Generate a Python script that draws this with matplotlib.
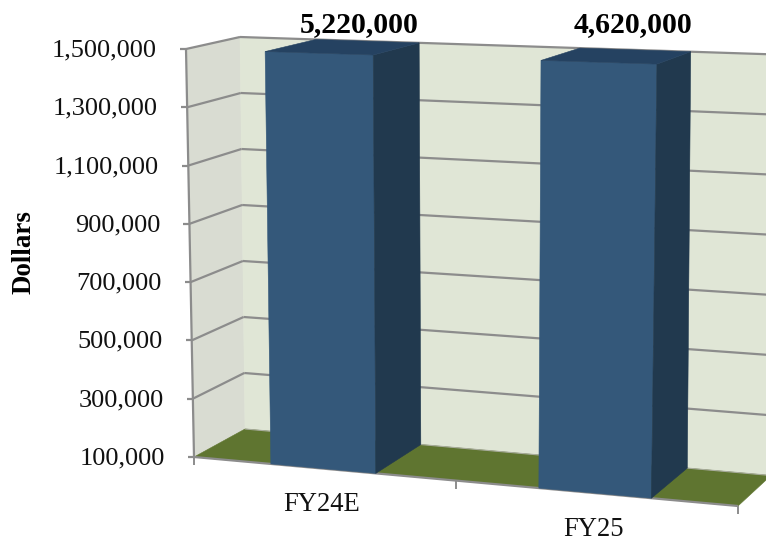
import matplotlib
matplotlib.use('Agg')
import matplotlib.pyplot as plt
from matplotlib.patches import Polygon

categories = ['FY24E', 'FY25']
values = [5220000, 4620000]
value_labels = ['5,220,000', '4,620,000']
y_ticks = [100000, 300000, 500000, 700000, 900000, 1100000, 1300000, 1500000]
y_min = 100000
y_max = 1500000

plt.rcParams['font.family'] = ['Liberation Serif', 'DejaVu Serif']

# corners of the 3d box as seen on the page, in pixels (u, depth, z)
FRONT_BOTTOM_L = (194, 457)
FRONT_BOTTOM_R = (738, 506)
FRONT_TOP_L = (186, 49)
FRONT_TOP_R = (746, 67)
BACK_BOTTOM_L = (245, 429)
BACK_BOTTOM_R = (771, 475.5)
BACK_TOP_L = (240, 37)
BACK_TOP_R = (776, 54.5)


def mix(a, b, t):
    return (a[0] + (b[0] - a[0]) * t, a[1] + (b[1] - a[1]) * t)


def warp(u):
    # slight perspective along the category axis
    return u / (1 + 0.0725 * (1 - u))


def project(u, d, z):
    u = warp(u)
    fb = mix(FRONT_BOTTOM_L, FRONT_BOTTOM_R, u)
    ft = mix(FRONT_TOP_L, FRONT_TOP_R, u)
    bb = mix(BACK_BOTTOM_L, BACK_BOTTOM_R, u)
    bt = mix(BACK_TOP_L, BACK_TOP_R, u)
    return mix(mix(fb, ft, z), mix(bb, bt, z), d)


def scale(v):
    return (min(v, y_max) - y_min) / (y_max - y_min)


fig = plt.figure(figsize=(7.66, 5.39), dpi=100)
ax = fig.add_axes([0, 0, 1, 1])
ax.set_xlim(0, 766)
ax.set_ylim(539, 0)
ax.axis('off')

GRID = '#8c8c8c'


def face(pts, color, z):
    ax.add_patch(Polygon(pts, closed=True, facecolor=color, edgecolor=color, linewidth=0.4, zorder=z))


def line(a, b, lw=2, z=3, color=GRID):
    ax.plot([a[0], b[0]], [a[1], b[1]], color=color, lw=lw, zorder=z, solid_capstyle='butt')


# walls and floor
face([project(0, 0, 0), project(0, 1, 0), project(0, 1, 1), project(0, 0, 1)], '#d9dcd2', 1)
face([project(0, 1, 0), project(1, 1, 0), project(1, 1, 1), project(0, 1, 1)], '#e0e6d6', 1)
face([project(0, 0, 0), project(1, 0, 0), project(1, 1, 0), project(0, 1, 0)], '#5f7530', 2)

# gridlines on the walls
for t in y_ticks:
    z = scale(t)
    if t != y_min:
        line(project(0, 0, z), project(0, 1, z), lw=1.6)
        line(project(0, 1, z), project(1, 1, z), lw=1.6)
    else:
        line(project(0, 1, z), project(1, 1, z), lw=0.8, color='#a8ac9c')
    p = project(0, 0, z)
    line((p[0] - 6, p[1]), p, lw=1.6)
    ax.text(p[0] - 29, p[1] + 1.5, format(t, ','), ha='right', va='center', fontsize=19, color='#111111', zorder=6)

# axis lines
line(project(0, 0, 0), project(0, 0, 1), lw=1.6, z=4)
line(project(0, 0, 0), project(1, 0, 0), lw=1.6, z=4)

n = len(categories)
for i in range(n + 1):
    p = project(i / n, 0, 0)
    line(p, (p[0], p[1] + 8), lw=1.4)

# bars
bar_width = 0.2
for i in range(n):
    c = (i + 0.5) / n
    u0 = c - bar_width / 2
    u1 = c + bar_width / 2
    top = scale(values[i])
    face([project(u0, 0, 0), project(u1, 0, 0), project(u1, 0, top), project(u0, 0, top)], '#34587a', 5)
    face([project(u1, 0, 0), project(u1, 1, 0), project(u1, 1, top), project(u1, 0, top)], '#21394e', 5)
    face([project(u0, 0, top), project(u1, 0, top), project(u1, 1, top), project(u0, 1, top)], '#254261', 5)

    mid = project(c, 0.5, 1)
    ax.text(mid[0] + 16.5, 25, value_labels[i], ha='center', va='center', fontsize=21.4,
            fontweight='bold', color='#000000', zorder=6)

    foot = project(c, 0, 0)
    ax.text(foot[0] - 1, foot[1] + 36, categories[i], ha='center', va='center', fontsize=19.2,
            color='#111111', zorder=6)

ax.text(24, 252, 'Dollars', rotation=90, ha='center', va='center', fontsize=19.4,
        fontweight='bold', color='#000000')

fig.savefig('out.png', dpi=100)
